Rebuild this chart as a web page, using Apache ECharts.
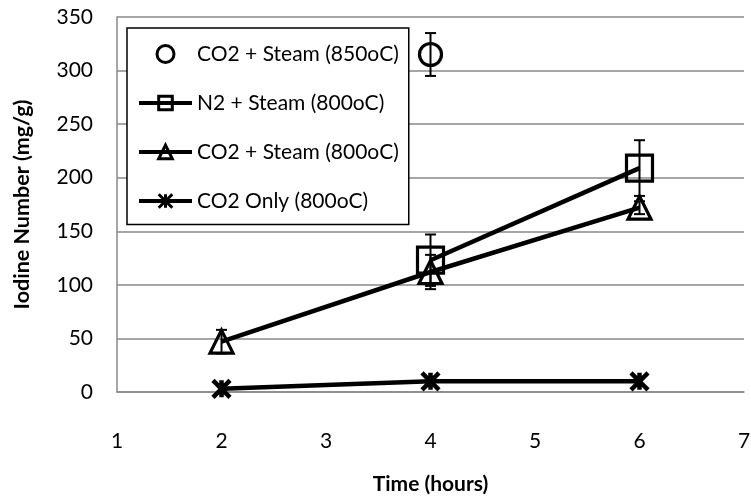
<!DOCTYPE html>
<html>
<head>
<meta charset="utf-8">
<script src="https://cdn.jsdelivr.net/npm/echarts@6/dist/echarts.min.js"></script>
<style>
  html, body { margin: 0; padding: 0; background: #fff; }
  #chart { width: 751px; height: 498px; }
</style>
</head>
<body>
<div id="chart"></div>
<script>
// Iodine number of activated carbon versus activation time
const seriesNames = ['CO2 + Steam (850oC)', 'N2 + Steam (800oC)', 'CO2 + Steam (800oC)', 'CO2 Only (800oC)'];

const co2Steam850Time = [4];
const co2Steam850Iodine = [315];
const co2Steam850Err = [20];

const n2Steam800Time = [4, 6];
const n2Steam800Iodine = [123, 209];
const n2Steam800Err = [24, 26];

const co2Steam800Time = [2, 4, 6];
const co2Steam800Iodine = [47, 112, 172];
const co2Steam800Err = [11, 16, 6];

const co2OnlyTime = [2, 4, 6];
const co2OnlyIodine = [3, 10, 10];

const xTicks = [1, 2, 3, 4, 5, 6, 7];
const yTicks = [0, 50, 100, 150, 200, 250, 300, 350];

const FONT = 'Lato';
const pairs = (xs, ys) => xs.map((x, i) => [x, ys[i]]);

const hollow = { color: 'rgba(0,0,0,0)', borderColor: '#000', borderWidth: 3.2, opacity: 1 };
const starPath = 'path://M0 0L20 20M20 0L0 20M10 0L10 20';

// vertical error bars with caps, placed through the value scales
function errorBars(name, xs, ys, errs) {
  return {
    type: 'custom',
    name: name,
    silent: true,
    z: 4,
    data: xs.map((x, i) => [x, ys[i] - errs[i], ys[i] + errs[i]]),
    encode: { x: 0, y: [1, 2] },
    renderItem: function (params, api) {
      const lo = api.coord([api.value(0), api.value(1)]);
      const hi = api.coord([api.value(0), api.value(2)]);
      const w = 5.5;
      const style = { stroke: '#000', lineWidth: 2, fill: null };
      return {
        type: 'group',
        children: [
          { type: 'line', shape: { x1: lo[0], y1: lo[1], x2: hi[0], y2: hi[1] }, style: style },
          { type: 'line', shape: { x1: lo[0] - w, y1: lo[1], x2: lo[0] + w, y2: lo[1] }, style: style },
          { type: 'line', shape: { x1: hi[0] - w, y1: hi[1], x2: hi[0] + w, y2: hi[1] }, style: style }
        ]
      };
    }
  };
}

const chart = echarts.init(document.getElementById('chart'), null, { renderer: 'canvas' });

chart.setOption({
  animation: false,
  backgroundColor: '#fff',
  textStyle: { fontFamily: FONT, color: '#000' },
  grid: { left: 117, right: 7, top: 17, bottom: 106, containLabel: false, outerBoundsMode: 'none' },
  xAxis: {
    type: 'value',
    min: xTicks[0],
    max: xTicks[xTicks.length - 1],
    interval: 1,
    name: 'Time (hours)',
    nameLocation: 'middle',
    nameGap: 82,
    nameTextStyle: { fontFamily: FONT, fontSize: 21, fontWeight: 'bold', color: '#000' },
    axisLine: { show: true, lineStyle: { color: '#888', width: 1.5 } },
    axisTick: { show: false },
    splitLine: { show: false },
    axisLabel: { fontFamily: FONT, fontSize: 21, color: '#000', margin: 39 }
  },
  yAxis: {
    type: 'value',
    min: yTicks[0],
    max: yTicks[yTicks.length - 1],
    interval: 50,
    name: 'Iodine Number (mg/g)',
    nameLocation: 'middle',
    nameGap: 84,
    nameTextStyle: { fontFamily: FONT, fontSize: 21.5, fontWeight: 'bold', color: '#000' },
    axisLine: { show: true, lineStyle: { color: '#888', width: 1.5 } },
    axisTick: { show: false },
    splitLine: { show: true, lineStyle: { color: '#888', width: 1.5 } },
    axisLabel: { fontFamily: FONT, fontSize: 21, color: '#000', margin: 24 }
  },
  legend: {
    data: seriesNames,
    orient: 'vertical',
    left: 127,
    top: 28,
    padding: [15.5, 10, 13, 10],
    itemWidth: 53,
    itemHeight: 17,
    itemGap: 28,
    backgroundColor: '#fff',
    borderColor: '#000',
    borderWidth: 1.5,
    borderRadius: 0,
    selectedMode: false,
    itemStyle: { borderWidth: 3, opacity: 1 },
    lineStyle: { width: 4 },
    textStyle: { fontFamily: FONT, fontSize: 21, lineHeight: 17, color: '#000' }
  },
  series: [
    {
      name: seriesNames[0],
      type: 'scatter',
      z: 3,
      symbol: 'circle',
      symbolSize: 22,
      itemStyle: hollow,
      data: pairs(co2Steam850Time, co2Steam850Iodine)
    },
    {
      name: seriesNames[1],
      type: 'line',
      z: 3,
      symbol: 'rect',
      symbolSize: 26,
      showAllSymbol: true,
      lineStyle: { color: '#000', width: 4.5 },
      itemStyle: hollow,
      data: pairs(n2Steam800Time, n2Steam800Iodine)
    },
    {
      name: seriesNames[2],
      type: 'line',
      z: 3,
      symbol: 'triangle',
      symbolSize: 23,
      showAllSymbol: true,
      lineStyle: { color: '#000', width: 4.5 },
      itemStyle: hollow,
      data: pairs(co2Steam800Time, co2Steam800Iodine)
    },
    {
      name: seriesNames[3],
      type: 'line',
      z: 3,
      symbol: starPath,
      symbolSize: 17,
      showAllSymbol: true,
      lineStyle: { color: '#000', width: 4.5 },
      itemStyle: { color: '#000', borderColor: '#000', borderWidth: 4.5 },
      data: pairs(co2OnlyTime, co2OnlyIodine)
    },
    errorBars('err850', co2Steam850Time, co2Steam850Iodine, co2Steam850Err),
    errorBars('errN2', n2Steam800Time, n2Steam800Iodine, n2Steam800Err),
    errorBars('errCO2', co2Steam800Time, co2Steam800Iodine, co2Steam800Err)
  ]
});
</script>
</body>
</html>
